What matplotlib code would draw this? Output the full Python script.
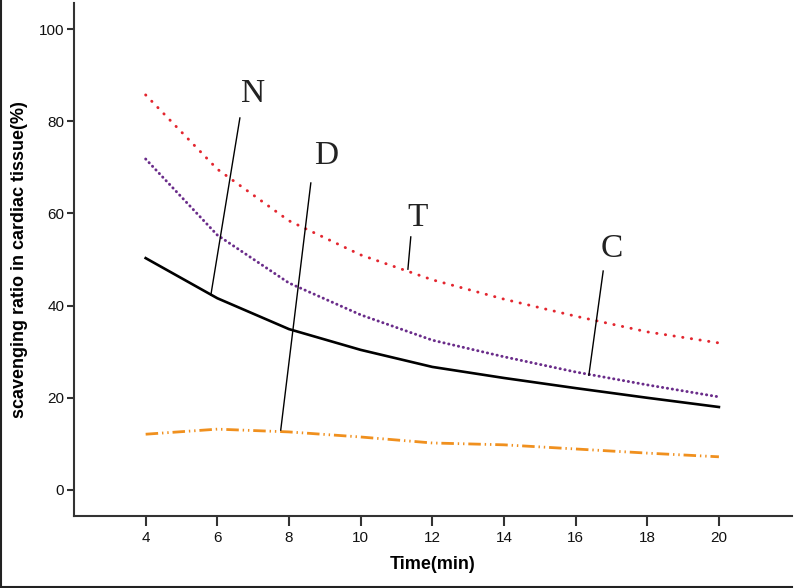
import matplotlib
matplotlib.use("Agg")
import matplotlib.pyplot as plt
from matplotlib.lines import Line2D

time_min = [4, 6, 8, 10, 12, 14, 16, 18, 20]
series_T = [85.7, 69.6, 58.4, 51.0, 45.6, 41.4, 37.7, 34.3, 31.9]
series_C = [71.8, 55.3, 44.9, 38.0, 32.5, 28.9, 25.6, 22.8, 20.2]
series_N = [50.3, 41.6, 34.9, 30.4, 26.7, 24.3, 22.1, 20.0, 18.0]
series_D = [12.1, 13.2, 12.6, 11.5, 10.2, 9.8, 8.9, 8.0, 7.2]
x_ticks = [4, 6, 8, 10, 12, 14, 16, 18, 20]
y_ticks = [0, 20, 40, 60, 80, 100]

# label text, label position, leader start, leader end (data coords)
labels = ["N", "D", "T", "C"]
label_pos = [(7.0, 85.9), (9.03, 72.4), (11.6, 59.0), (17.0, 52.3)]
leader_start = [(6.63, 80.7), (8.61, 66.6), (11.40, 54.9), (16.77, 47.5)]
leader_end = [(5.82, 42.3), (7.77, 13.0), (11.32, 47.9), (16.37, 24.9)]

fig = plt.figure(figsize=(7.95, 5.88), dpi=100)
ax = fig.add_axes([74/795, 1-516/588, (792-74)/795, (516-3)/588])

ax.plot(time_min, series_T, color="#e3262f", lw=2.1,
        linestyle=(0, (0.1, 2.9)), dash_capstyle="round")
ax.plot(time_min, series_C, color="#6a2c8a", lw=2.1,
        linestyle=(0, (0.1, 1.6)), dash_capstyle="round")
ax.plot(time_min, series_N, color="black", lw=1.9, solid_joinstyle="round")
ax.plot(time_min, series_D, color="#f0901e", lw=2.0,
        linestyle=(0, (4.5, 1.4, 0.5, 1.4, 0.5, 1.4)))

for lab, p, s, e in zip(labels, label_pos, leader_start, leader_end):
    ax.plot([s[0], e[0]], [s[1], e[1]], color="black", lw=1.0)
    ax.text(p[0], p[1], lab, family="Liberation Serif", fontsize=24,
            color="#222222", ha="center", va="center")

ax.set_xlim(2, 22.04)
ax.set_ylim(-5.64, 105.64)
ax.set_xticks(x_ticks)
ax.set_yticks(y_ticks)
for sp in ["top", "right"]:
    ax.spines[sp].set_visible(False)
for sp in ["left", "bottom"]:
    ax.spines[sp].set_color("#333333")
    ax.spines[sp].set_linewidth(1.5)
ax.tick_params(axis="x", length=7, width=1.5, color="#333333",
               labelsize=11, pad=4, labelcolor="#111111")
ax.tick_params(axis="y", length=5, width=1.5, color="#333333",
               labelsize=11, pad=2, labelcolor="#111111")
for t in ax.get_xticklabels() + ax.get_yticklabels():
    t.set_family("Liberation Sans")
ax.set_xlabel("Time(min)", family="Liberation Sans", fontweight="bold",
              fontsize=13, labelpad=8)
ax.set_ylabel("scavenging ratio in cardiac tissue(%)", family="Liberation Sans",
              fontweight="bold", fontsize=13, labelpad=8)

fig.add_artist(Line2D([0.5/795, 0.5/795], [0, 1], color="#222222", lw=1.5,
                      transform=fig.transFigure))
fig.add_artist(Line2D([0, 792/795], [1/588, 1/588], color="#222222", lw=1.5,
                      transform=fig.transFigure))

fig.savefig("out.png", dpi=100)
